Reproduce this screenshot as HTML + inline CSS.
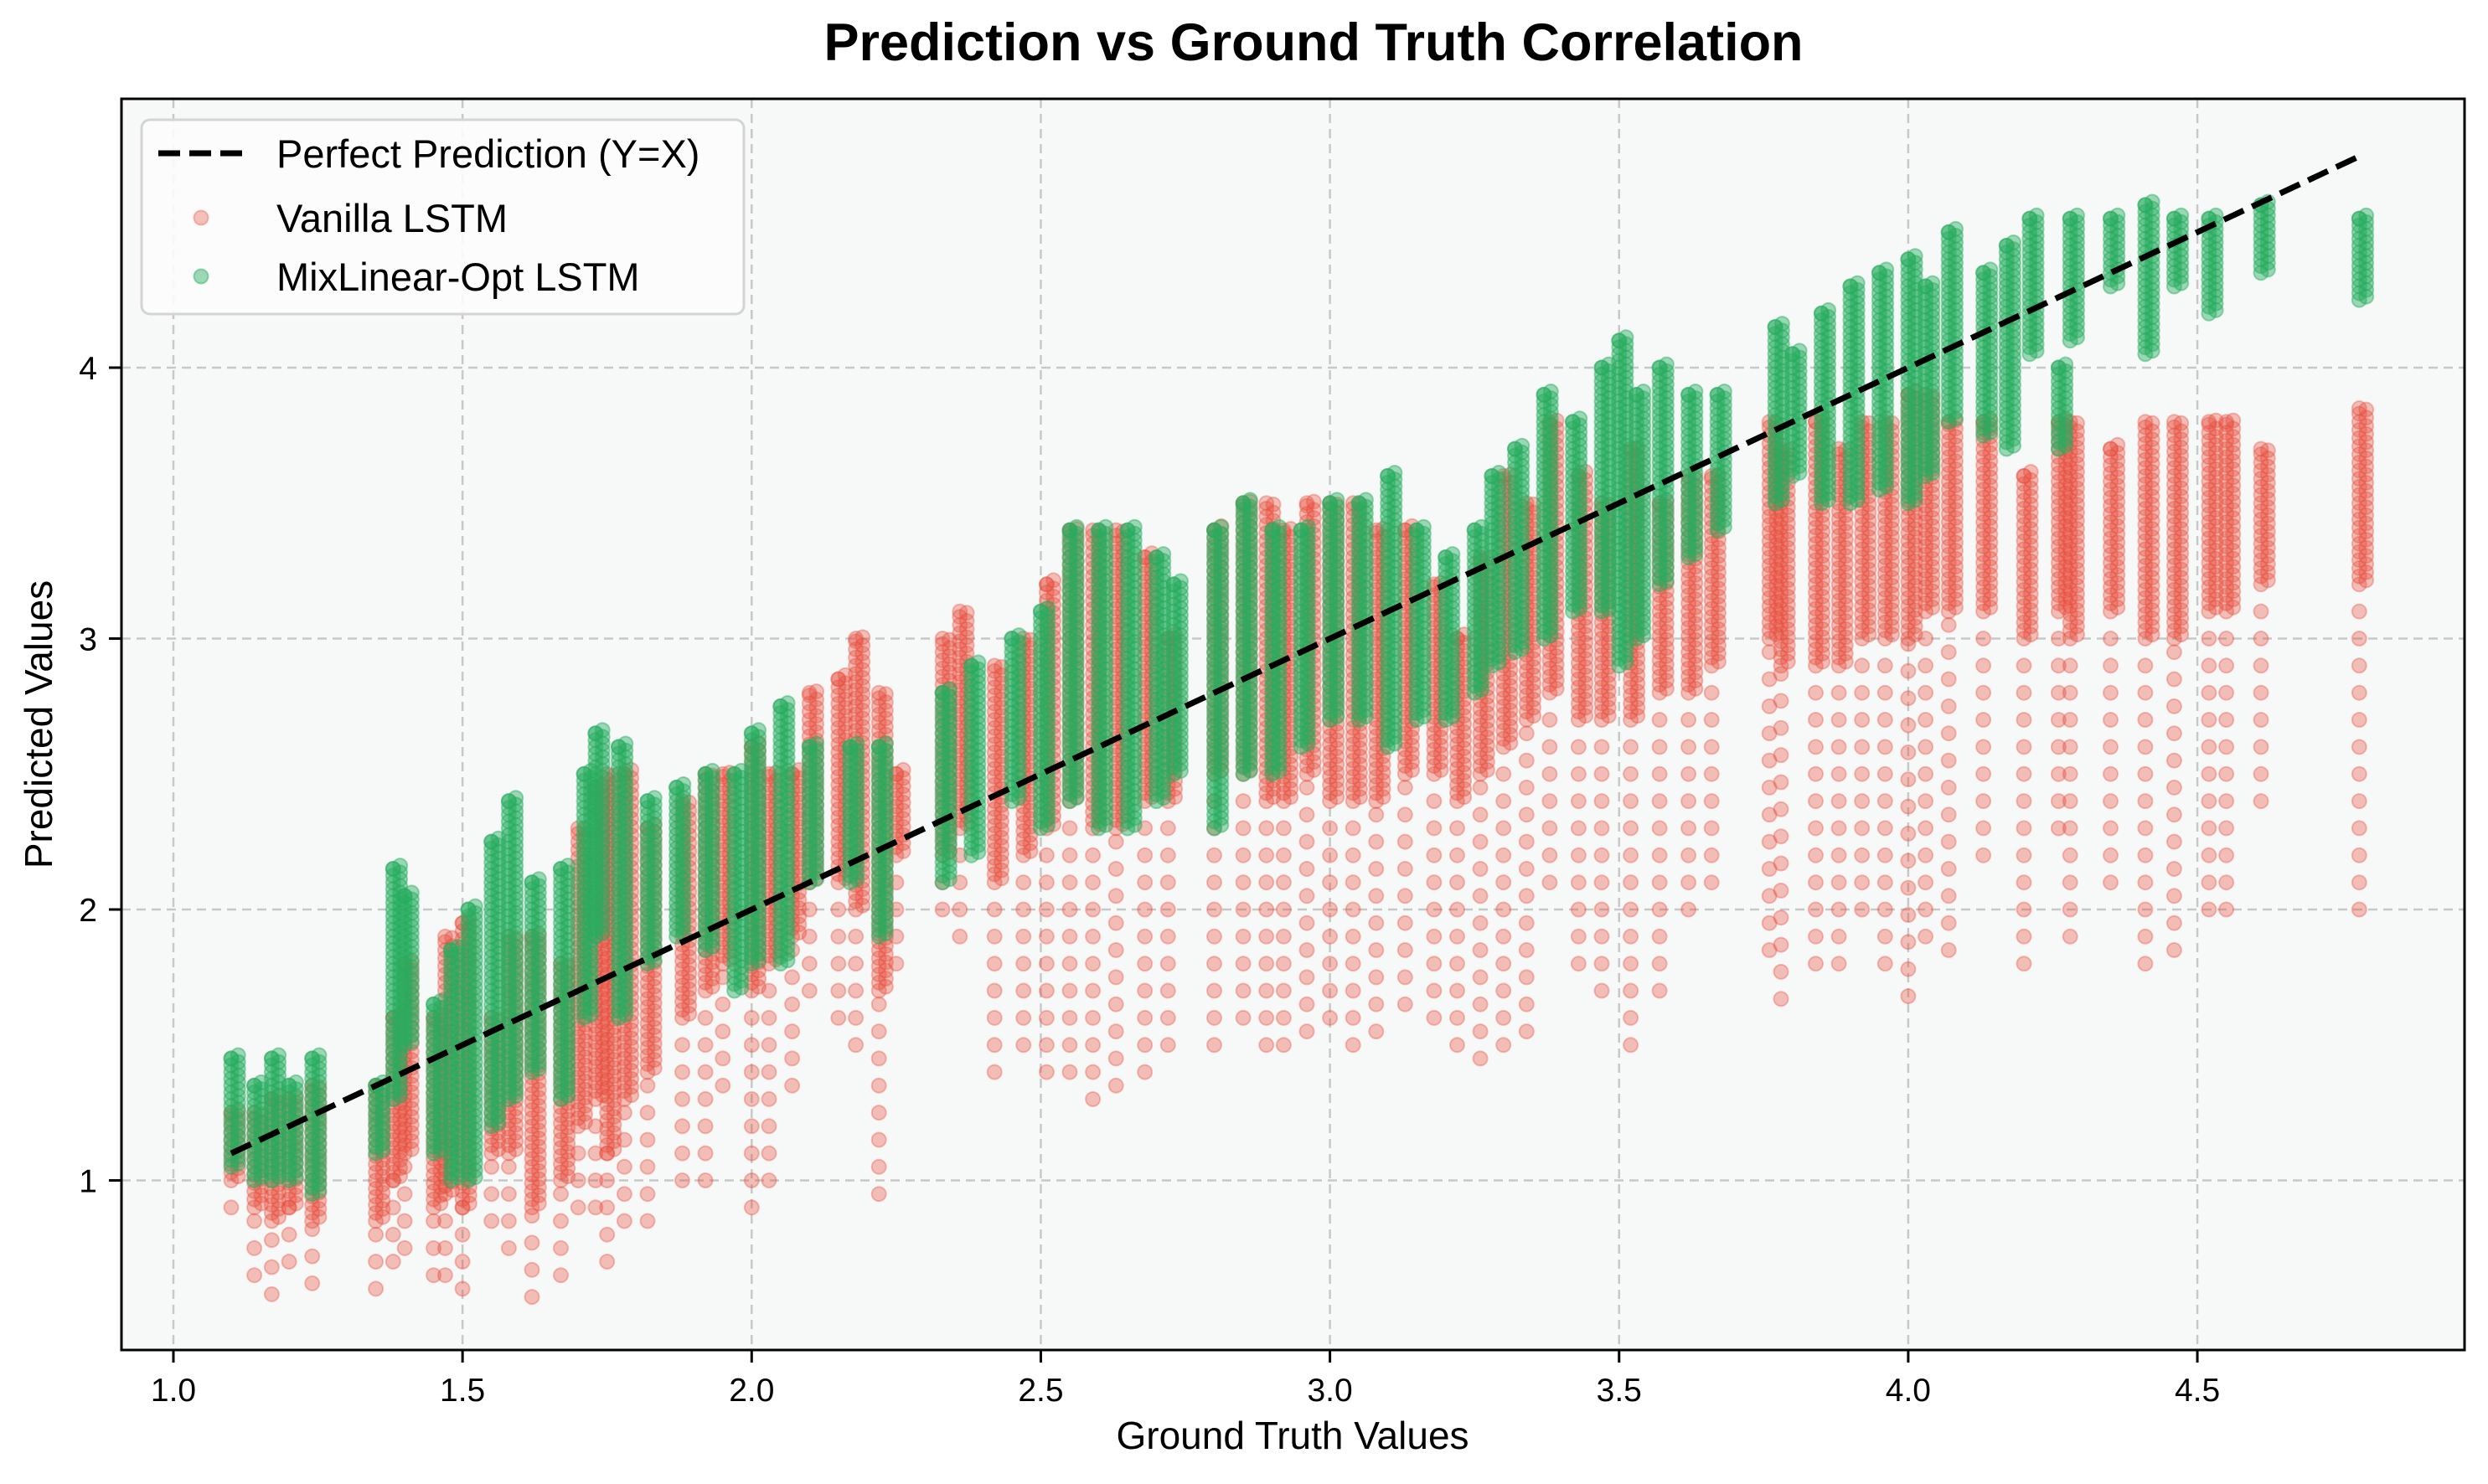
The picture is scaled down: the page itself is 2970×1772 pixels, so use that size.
<!DOCTYPE html>
<html><head><meta charset="utf-8"><style>
html,body{margin:0;padding:0;background:#fff;}
svg{display:block;font-family:"Liberation Sans",sans-serif;}
</style></head><body>
<svg id="chart" width="2970" height="1772" viewBox="0 0 2970 1772" xmlns="http://www.w3.org/2000/svg">
<rect x="0" y="0" width="2970" height="1772" fill="#ffffff"/>
<text x="1568" y="72" text-anchor="middle" font-size="63" font-weight="bold" fill="#000">Prediction vs Ground Truth Correlation</text>
<rect x="145" y="118" width="2797" height="1494" fill="#f7f9f9"/>
<g id="grid"></g>
<g id="ticks"></g>
<g id="red"></g>
<g id="green"></g>
<g id="line"></g>
<rect x="145" y="118" width="2797" height="1494" fill="none" stroke="#000" stroke-width="3"/>
<text x="1543" y="1730" text-anchor="middle" font-size="46" fill="#000">Ground Truth Values</text>
<text x="62" y="865" text-anchor="middle" font-size="46" fill="#000" transform="rotate(-90 62 865)">Predicted Values</text>
<g>
<rect x="169" y="143" width="719" height="232" rx="10" fill="#fcfcfc" fill-opacity="0.9" stroke="#d4d4d4" stroke-width="3"/>
<line x1="189" y1="183" x2="290" y2="183" stroke="#000" stroke-width="7" stroke-dasharray="26,11"/>
<text x="330" y="200" font-size="47" fill="#000">Perfect Prediction (Y=X)</text>
<circle cx="240" cy="260" r="8.5" fill="#e74c3c" fill-opacity="0.35" stroke="#e74c3c" stroke-opacity="0.35" stroke-width="2"/>
<text x="330" y="277" font-size="47" fill="#000">Vanilla LSTM</text>
<circle cx="240" cy="330" r="8.5" fill="#27ae60" fill-opacity="0.45" stroke="#27ae60" stroke-opacity="0.45" stroke-width="2"/>
<text x="330" y="347" font-size="47" fill="#000">MixLinear-Opt LSTM</text>
</g>
</svg>
<script>
const xTicks = [1.0, 1.5, 2.0, 2.5, 3.0, 3.5, 4.0, 4.5];
const xTickLabels = ["1.0","1.5","2.0","2.5","3.0","3.5","4.0","4.5"];
const yTicks = [1, 2, 3, 4];
const yTickLabels = ["1","2","3","4"];
const lineX = [1.10, 4.776];

const redX   = [1.10,1.14,1.17,1.20,1.24,1.35,1.38,1.40,1.45,1.47,1.50,1.55,1.58,1.62,1.67,1.70,1.73,1.75,1.78,1.82,1.88,1.92,1.95,2.00,2.03,2.07,2.10,2.15,2.18,2.22,2.25,2.33,2.36,2.42,2.47,2.51,2.55,2.59,2.63,2.68,2.72,2.80,2.85,2.89,2.92,2.96,3.00,3.04,3.08,3.13,3.18,3.22,3.26,3.30,3.34,3.38,3.43,3.47,3.52,3.57,3.62,3.66,3.76,3.78,3.84,3.88,3.92,3.96,4.00,4.03,4.07,4.13,4.20,4.26,4.28,4.35,4.41,4.46,4.52,4.55,4.61,4.78];
const redLo  = [0.90,0.65,0.58,0.70,0.62,0.60,0.70,0.75,0.65,0.65,0.60,0.85,0.75,0.57,0.65,0.90,0.90,0.70,0.85,0.85,1.00,1.00,1.35,0.90,1.00,1.35,1.70,1.60,1.50,0.95,1.80,2.00,1.90,1.40,1.50,1.40,1.40,1.30,1.35,1.40,1.50,1.50,1.60,1.50,1.50,1.55,1.60,1.50,1.55,1.65,1.60,1.50,1.45,1.50,1.55,2.10,1.80,1.70,1.50,1.70,2.00,2.10,1.85,1.67,1.80,1.80,2.00,1.80,1.68,1.90,1.85,2.20,1.80,2.30,1.90,2.10,1.80,1.85,2.00,2.00,2.40,2.00];
const redMid = [1.00,0.90,0.85,0.90,0.85,0.85,1.00,1.10,0.90,0.95,0.90,1.10,1.10,0.90,1.00,1.20,1.30,1.10,1.30,1.40,1.60,1.70,1.80,1.70,1.80,1.90,2.10,2.10,2.00,1.70,2.20,2.20,2.30,2.10,2.20,2.30,2.40,2.30,2.30,2.40,2.40,2.50,2.50,2.40,2.40,2.50,2.40,2.40,2.40,2.50,2.50,2.40,2.50,2.60,2.70,2.80,2.70,2.70,2.70,2.80,2.80,2.90,3.00,2.90,2.90,2.90,3.00,3.00,3.00,3.10,3.10,3.10,3.00,3.10,3.00,3.10,3.00,3.00,3.10,3.10,3.20,3.20];
const redHi  = [1.25,1.25,1.30,1.30,1.35,1.35,1.60,1.80,1.60,1.90,1.95,1.60,1.90,1.90,1.80,2.30,2.45,2.50,2.50,2.30,2.40,2.50,2.50,2.60,2.50,2.50,2.80,2.85,3.00,2.80,2.50,3.00,3.10,2.90,3.00,3.20,3.40,3.40,3.40,3.30,3.00,3.40,3.50,3.50,3.40,3.50,3.50,3.50,3.40,3.40,3.20,3.00,3.30,3.60,3.50,3.80,3.60,3.50,3.70,3.50,3.60,3.60,3.80,3.70,3.80,3.70,3.80,3.80,3.90,3.90,3.80,3.80,3.60,3.80,3.80,3.70,3.80,3.80,3.80,3.80,3.70,3.85];

const greenX  = [1.10,1.14,1.17,1.20,1.24,1.35,1.38,1.40,1.45,1.48,1.51,1.55,1.58,1.62,1.67,1.71,1.73,1.77,1.82,1.87,1.92,1.97,2.00,2.05,2.10,2.17,2.22,2.33,2.38,2.45,2.50,2.55,2.60,2.65,2.70,2.73,2.80,2.85,2.90,2.95,3.00,3.05,3.10,3.15,3.20,3.25,3.28,3.32,3.37,3.42,3.47,3.50,3.53,3.57,3.62,3.67,3.77,3.80,3.85,3.90,3.95,4.00,4.03,4.07,4.13,4.17,4.21,4.26,4.28,4.35,4.41,4.46,4.52,4.61,4.78];
const greenLo = [1.05,1.00,1.00,1.00,0.95,1.10,1.30,1.50,1.10,1.00,1.00,1.20,1.30,1.40,1.30,1.60,1.90,1.60,1.80,1.90,1.85,1.70,1.80,1.80,2.10,2.10,1.90,2.10,2.20,2.40,2.30,2.40,2.30,2.30,2.40,2.50,2.30,2.50,2.50,2.60,2.70,2.70,2.60,2.70,2.70,2.80,2.90,2.95,3.00,3.10,3.10,2.90,3.00,3.20,3.30,3.40,3.50,3.60,3.50,3.50,3.55,3.50,3.60,3.80,3.75,3.70,4.05,3.70,4.10,4.30,4.05,4.30,4.20,4.35,4.25];
const greenHi = [1.45,1.35,1.45,1.35,1.45,1.35,2.15,2.05,1.65,1.85,2.00,2.25,2.40,2.10,2.15,2.50,2.65,2.60,2.40,2.45,2.50,2.50,2.65,2.75,2.60,2.60,2.60,2.80,2.90,3.00,3.10,3.40,3.40,3.40,3.30,3.20,3.40,3.50,3.40,3.40,3.50,3.50,3.60,3.40,3.30,3.40,3.60,3.70,3.90,3.80,4.00,4.10,3.90,4.00,3.90,3.90,4.15,4.05,4.20,4.30,4.35,4.40,4.30,4.50,4.35,4.45,4.55,4.00,4.55,4.55,4.60,4.55,4.55,4.60,4.55];

const NS = "http://www.w3.org/2000/svg";
const X0 = 207, XS = 690.3, Y0 = 1409.5, YS = 323.5;
function sx(v){ return X0 + (v - 1.0) * XS; }
function sy(v){ return Y0 - (v - 1.0) * YS; }
function mk(tag, attrs, parent){
  const e = document.createElementNS(NS, tag);
  for (const k in attrs) e.setAttribute(k, attrs[k]);
  parent.appendChild(e);
  return e;
}
const grid = document.getElementById('grid');
const ticks = document.getElementById('ticks');
xTicks.forEach((v, i) => {
  const g = mk('line', {x1:sx(v), x2:sx(v), y1:118, y2:1612, stroke:'#c8c8c8', 'stroke-width':2.5, 'stroke-dasharray':'11,7'}, grid);
  
  
  const t = mk('line', {x1:sx(v), x2:sx(v), y1:1612, y2:1627, stroke:'#000', 'stroke-width':3}, ticks);
  
  
  const l = mk('text', {x:sx(v), y:1673, 'text-anchor':'middle', 'font-size':39, fill:'#000'}, ticks);
  l.textContent = xTickLabels[i];
  
  
});
yTicks.forEach((v, i) => {
  const g = mk('line', {x1:145, x2:2942, y1:sy(v), y2:sy(v), stroke:'#c8c8c8', 'stroke-width':2.5, 'stroke-dasharray':'11,7'}, grid);
  
  
  const t = mk('line', {x1:130, x2:145, y1:sy(v), y2:sy(v), stroke:'#000', 'stroke-width':3}, ticks);
  
  
  const l = mk('text', {x:116, y:sy(v)+14, 'text-anchor':'end', 'font-size':39, fill:'#000'}, ticks);
  l.textContent = yTickLabels[i];
  
  
});
function dot(parent, x, y, color, a){
  const c = mk('circle', {cx:sx(x).toFixed(1), cy:sy(y).toFixed(1), r:8.5, fill:color, 'fill-opacity':a, stroke:color, 'stroke-opacity':a, 'stroke-width':2}, parent);
  
  
}
const red = document.getElementById('red');
redX.forEach((x, i) => {
  for (let y = redLo[i]; y < redMid[i]; y += 0.1) dot(red, x, y, '#e74c3c', 0.35);
  for (let y = redMid[i]; y <= redHi[i] + 1e-6; y += 0.03) { dot(red, x, y, '#e74c3c', 0.35); dot(red, x + 0.012, y + 0.015, '#e74c3c', 0.35); }
  dot(red, x, redHi[i], '#e74c3c', 0.35);
});
const green = document.getElementById('green');
greenX.forEach((x, i) => {
  for (let y = greenLo[i]; y <= greenHi[i] + 1e-6; y += 0.025) { dot(green, x, y, '#27ae60', 0.45); dot(green, x + 0.012, y + 0.012, '#27ae60', 0.45); }
  dot(green, x, greenHi[i], '#27ae60', 0.45);
});
const lg = document.getElementById('line');
const ln = mk('line', {x1:sx(lineX[0]), y1:sy(lineX[0]), x2:sx(lineX[1]), y2:sy(lineX[1]), stroke:'#000', 'stroke-width':7, 'stroke-dasharray':'26,11'}, lg);


</script>
</body></html>
